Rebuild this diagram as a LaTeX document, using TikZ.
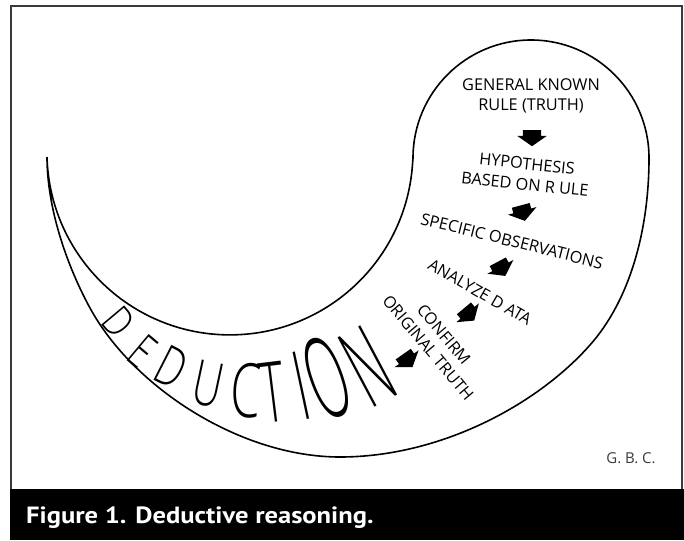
\documentclass[tikz,border=0pt]{standalone}
\usepackage{fontspec}
\setmainfont{Open Sans}
\newfontfamily\capfont{PT Sans}
\IfFontExistsTF{Open Sans Light}{\newfontfamily\dedfont{Open Sans Light}}{%
  \IfFontExistsTF{Fira Sans Light}{\newfontfamily\dedfont{Fira Sans Light}}{%
    \IfFontExistsTF{Lato Light}{\newfontfamily\dedfont{Lato Light}}{%
      \newfontfamily\dedfont{Open Sans}}}}
\usetikzlibrary{shapes.arrows}
\definecolor{framegray}{HTML}{3A3A3A}

\begin{document}
\begin{tikzpicture}[x=1pt, y=-1pt]

% Define styles
\tikzstyle{steptext} = [font=\fontsize{16.3}{20.5}\selectfont, align=center, inner sep=0pt]
\tikzstyle{dart} = [single arrow, fill=black, draw=none, inner xsep=0pt, inner ysep=9pt, minimum height=16pt, single arrow head extend=5.5pt, single arrow tip angle=110]
\tikzstyle{spiral} = [line width=1.6pt, line join=round]

\useasboundingbox (0,0) rectangle (684,540);

% Frame and caption bar
\draw[framegray, line width=1.3pt] (11,489) -- (11,6) -- (682,6) -- (682,489);
\fill[black] (10,489) rectangle (684,540);
\node[anchor=base west, text=white, inner sep=0pt, font=\capfont\bfseries\fontsize{23.5}{23.5}\selectfont] (caption) at (26,523.5) {\scalebox{1.13}[1]{Figure 1. Deductive reasoning.}};
\node[font=\fontsize{15}{15}\selectfont, text=framegray] (gbc) at (631,458) {G. B. C.};

% Spiral outline
\draw[spiral] (47,157) arc[start angle=178.4, end angle=4, radius=183]
  -- (413,158) arc[start angle=180, end angle=360, radius=118]
  .. controls (649,230) and (630,300) .. (590,345)
  .. controls (537,405) and (440,457) .. (340,457)
  .. controls (240,457) and (133,387) .. (90,308)
  .. controls (66,264) and (47,207) .. (47,157);

% Steps of the reasoning
\node[steptext] (rule) at (531,96) {GENERAL KNOWN\\RULE (TRUTH)};
\node[dart, rotate=-90] (d1) at (532,135) {};
\node[steptext, rotate=-6] (hyp) at (526,174) {HYPOTHESIS\\BASED ON R ULE};
\node[dart, rotate=-75] (d2) at (522,210) {};
\node[steptext, rotate=-14] (obs) at (512,241) {SPECIFIC OBSERVATIONS};
\node[dart, rotate=-62] (d3) at (500,266) {};
\node[steptext, rotate=-30] (data) at (480,292) {ANALYZE D ATA};
\node[dart, rotate=-50] (d4) at (467,312) {};
\node[steptext, rotate=-50] (conf) at (436,341) {CONFIRM\\ORIGINAL TRUTH};
\node[dart, rotate=-55] (d5) at (406,358) {};

% Growing letters along the band
\foreach \ch/\px/\py/\rot/\sz/\xs [count=\i] in {D/119/322/-50/42/0.8, E/143/351/-40/48/0.7, D/172/367/-27/55/0.7, U/208/384/-12/62/0.65, C/246/391/-3/75/0.65, T/273/392/7/84/0.55, I/301/386/12/96/0.5, O/327/378/20/113/0.45, N/368/366/28/110/0.45}
  \node[rotate=\rot, inner sep=0pt] (ded\i) at (\px,\py) {\scalebox{\xs}[1]{\fontsize{\sz}{\sz}\dedfont\ch}};

\end{tikzpicture}
\end{document}
